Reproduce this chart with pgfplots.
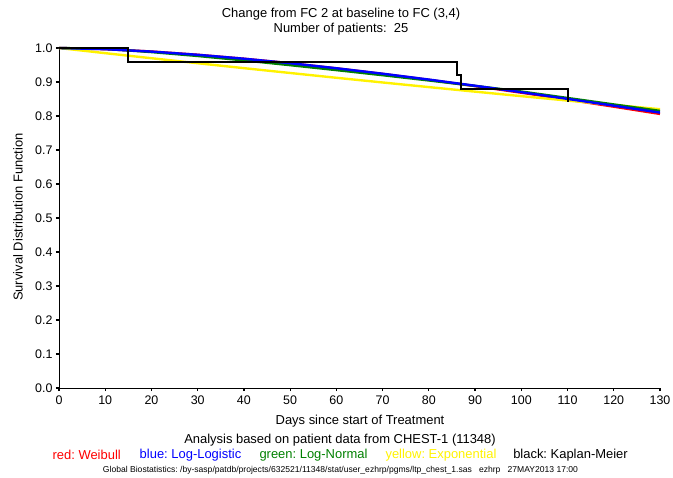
\documentclass[border=0pt]{standalone}
\usepackage{fontspec}
\setmainfont{Liberation Sans}
\usepackage{pgfplots}
\pgfplotsset{compat=1.18}
\definecolor{sasgreen}{RGB}{0,128,0}
\frenchspacing
\begin{document}
\begin{tikzpicture}[x=1bp,y=1bp]
\useasboundingbox (-59bp,-90bp) rectangle (614bp,388bp);
\begin{axis}[
  at={(0,0)}, anchor=origin,
  width=601bp, height=340bp, scale only axis,
  xmin=0, xmax=130, ymin=0, ymax=1.0,
  axis x line*=bottom, axis y line*=left,
  axis line style={-, line width=0.8pt},
  xtick={0,10,...,130},
  ytick={0,0.1,...,1.0},
  yticklabel style={/pgf/number format/fixed, /pgf/number format/fixed zerofill, /pgf/number format/precision=1, xshift=0bp},
  /pgf/number format/assume math mode=true,
  tick align=outside, major tick length=3bp,
  tick style={line width=1.2pt, black},
  ticklabel style={font=\fontsize{12.5}{14}\selectfont},
  xticklabel style={yshift=-1.5bp},
  clip=false,
]
\addplot[red, line width=2.4pt] coordinates {(0,1) (10,0.9966) (20,0.9897) (30,0.9801) (40,0.9685) (50,0.9552) (60,0.9402) (70,0.9239) (80,0.9064) (90,0.8879) (100,0.8685) (110,0.8483) (120,0.8274) (130,0.8060)};
\addplot[yellow, line width=2.4pt] coordinates {(0,1) (10,0.9848) (20,0.9699) (30,0.9552) (40,0.9407) (50,0.9265) (60,0.9124) (70,0.8986) (80,0.8850) (90,0.8716) (100,0.8584) (110,0.8454) (120,0.8326) (130,0.8200)};
\addplot[sasgreen, line width=2.4pt] coordinates {(0,1) (10,0.9975) (20,0.9880) (30,0.9765) (40,0.9635) (50,0.9495) (60,0.9350) (70,0.9200) (80,0.9045) (90,0.8885) (100,0.8720) (110,0.8530) (120,0.8340) (130,0.8150)};
\addplot[blue, line width=2.4pt] coordinates {(0,1) (10,0.9965) (20,0.9895) (30,0.9800) (40,0.9685) (50,0.9553) (60,0.9405) (70,0.9244) (80,0.9072) (90,0.8890) (100,0.8700) (110,0.8503) (120,0.8303) (130,0.8100)};
\addplot[black, line width=2pt, const plot] coordinates {(0,1) (15,0.96) (86,0.92) (87,0.88) (110,0.84)};
\end{axis}
\begin{scope}[every node/.style={inner sep=0pt}]
\node[font=\fontsize{13}{15}\selectfont] at (341-59, 388-14) {Change from FC 2 at baseline to FC (3,4)};
\node[font=\fontsize{13}{15}\selectfont] at (341-59, 388-29) {Number of patients:\ \ 25};
\node[rotate=90, font=\fontsize{13}{15}\selectfont] at (18-59, 388-217) {Survival Distribution Function};
\node[font=\fontsize{13}{15}\selectfont] at (360-59, 388-421) {Days since start of Treatment};
\node[font=\fontsize{13}{15}\selectfont] at (340-59, 388-440) {Analysis based on patient data from CHEST-1 (11348)};
\node[font=\fontsize{13}{15}\selectfont, text=red] at (86.7-59, 388-455) {red: Weibull};
\node[font=\fontsize{13}{15}\selectfont, text=blue] at (190.5-59, 388-455) {blue: Log-Logistic};
\node[font=\fontsize{13}{15}\selectfont, text=sasgreen] at (313.5-59, 388-455) {green: Log-Normal};
\node[font=\fontsize{13}{15}\selectfont, text=yellow] at (441-59, 388-455) {yellow: Exponential};
\node[font=\fontsize{13}{15}\selectfont, text=black] at (570.5-59, 388-455) {black: Kaplan-Meier};
\node[font=\fontsize{8.6}{10}\selectfont] at (340.5-59, 388-470) {Global Biostatistics: /by-sasp/patdb/projects/632521/11348/stat/user\_ezhrp/pgms/ltp\_chest\_1.sas\ \ \ ezhrp\ \ \ 27MAY2013 17:00};
\end{scope}
\end{tikzpicture}
\end{document}
